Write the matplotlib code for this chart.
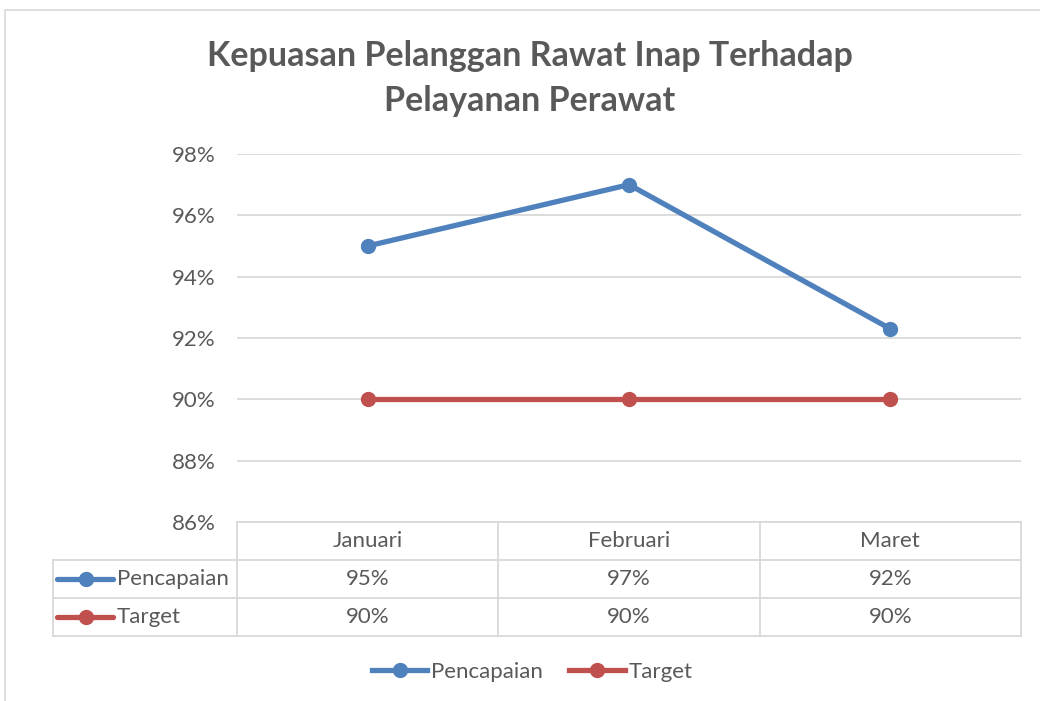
import matplotlib.pyplot as plt
from matplotlib.lines import Line2D
from matplotlib.patches import Rectangle

plt.rcParams['font.family'] = ['Lato', 'DejaVu Sans']

months = ['Januari', 'Februari', 'Maret']
pencapaian = [95.0, 97.0, 92.3]
target = [90.0, 90.0, 90.0]
series_names = ['Pencapaian', 'Target']
colors = ['#4f81bd', '#c0504d']
txt = '#595959'
grid = '#d9d9d9'
FS = 16

W, H = 1040, 701
fig = plt.figure(figsize=(W / 100, H / 100), dpi=100)

# chart border (only top/left visible in reference)
fig.patches.append(Rectangle((5 / W, -0.1), 1.2, 1 - 10 / H + 0.1, transform=fig.transFigure,
                             fill=False, edgecolor=grid, lw=1.2))

def fx(px):
    return px / W

def fy(py):
    return 1 - py / H

# plot area
ax = fig.add_axes([fx(237), fy(522), fx(1021) - fx(237), fy(154) - fy(522)])
xs = [i + 0.5 for i in range(len(months))]
for vals, c in zip([pencapaian, target], colors):
    ax.plot(xs, vals, color=c, lw=3.8, marker='o', markersize=10, solid_capstyle='round', zorder=3)
ax.set_xlim(0, 3)
ax.set_ylim(86, 98)
ax.set_yticks(range(86, 99, 2))
ax.set_yticklabels([f'{v}%' for v in range(86, 99, 2)], color=txt, fontsize=FS)
ax.tick_params(axis='y', length=0, pad=15.5)
ax.set_xticks([])
ax.grid(axis='y', color=grid, lw=1.3)
for s in ax.spines.values():
    s.set_visible(False)

# data table
left = -(237 - 53) / (784 / 3)
tab = fig.add_axes([fx(53), fy(636), fx(1021) - fx(53), fy(522) - fy(636)])
tab.set_xlim(left, 3)
tab.set_ylim(3, 0)
tab.axis('off')
lk = dict(color=grid, lw=1.3, clip_on=False)
tab.plot([0, 3], [0, 0], **lk)
for r in [1, 2, 3]:
    tab.plot([left, 3], [r, r], **lk)
tab.plot([left, left], [1, 3], **lk)
for c in [0, 1, 2, 3]:
    tab.plot([c, c], [0, 3], **lk)
for i, m in enumerate(months):
    tab.text(i + 0.5, 0.5, m, ha='center', va='center', color=txt, fontsize=FS)
for r, (name, vals, c) in enumerate(zip(series_names, [pencapaian, target], colors), start=1):
    tab.add_line(Line2D([left + 0.015, left + 0.23], [r + 0.5, r + 0.5], color=c, lw=3.8,
                        solid_capstyle='round', clip_on=False))
    tab.plot([left + 0.125], [r + 0.5], 'o', color=c, markersize=10, clip_on=False)
    tab.text(left + 0.245, r + 0.5, name, ha='left', va='center', color=txt, fontsize=FS)
    for i, v in enumerate(vals):
        tab.text(i + 0.5, r + 0.5, f'{v:.0f}%', ha='center', va='center', color=txt, fontsize=FS)

# title
fig.text(fx(530), fy(56), 'Kepuasan Pelanggan Rawat Inap Terhadap', ha='center', va='center',
         fontsize=24.5, fontweight='bold', color=txt)
fig.text(fx(530), fy(101), 'Pelayanan Perawat', ha='center', va='center',
         fontsize=24.5, fontweight='bold', color=txt)

# legend
handles = [Line2D([0], [0], color=c, lw=3.8, marker='o', markersize=10) for c in colors]
fig.legend(handles, series_names, loc='center', bbox_to_anchor=(fx(532), fy(672)), ncol=2,
           frameon=False, fontsize=FS, labelcolor=txt, handlelength=2.5, handletextpad=0.15,
           columnspacing=1.2)

fig.savefig('out.png', dpi=100)
